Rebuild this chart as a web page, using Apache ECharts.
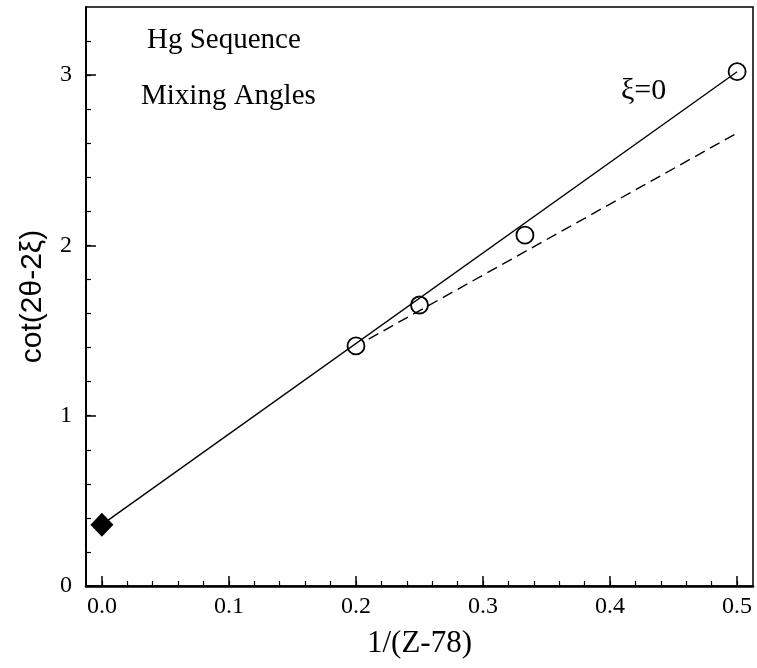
<!DOCTYPE html>
<html>
<head>
<meta charset="utf-8">
<script src="https://cdn.jsdelivr.net/npm/echarts@6/dist/echarts.min.js"></script>
<style>
  html, body { margin: 0; padding: 0; background: #fff; }
  #chart { width: 757px; height: 668px; }
</style>
</head>
<body>
<div id="chart"></div>
<script>
// measured points, 1/(Z-78) vs cot(2θ-2ξ)
const circlePoints = [[0.2, 1.41], [0.25, 1.65], [0.333, 2.06], [0.5, 3.02]];
const limitPoint = [[0, 0.36]];
const solidFit = [[0, 0.36], [0.5, 3.02]];
const dashedFit = [[0.21, 1.45], [0.5, 2.66]];

const xMajor = [0, 0.1, 0.2, 0.3, 0.4, 0.5];
const xLabels = ["0.0", "0.1", "0.2", "0.3", "0.4", "0.5"];
const xMinor = [0, 0.02, 0.04, 0.06, 0.08, 0.1, 0.12, 0.14, 0.16, 0.18, 0.2, 0.22, 0.24, 0.26, 0.28, 0.3,
  0.32, 0.34, 0.36, 0.38, 0.4, 0.42, 0.44, 0.46, 0.48, 0.5];
const yMajor = [0, 1, 2, 3];
const yMinor = [0, 0.2, 0.4, 0.6, 0.8, 1, 1.2, 1.4, 1.6, 1.8, 2, 2.2, 2.4, 2.6, 2.8, 3, 3.2];

const serif = "Liberation Serif";
const X_MIN = -0.0125, X_MAX = 0.5125, Y_MIN = 0, Y_MAX = 3.4;

const chart = echarts.init(document.getElementById("chart"));

const baseX = {
  type: "value",
  min: X_MIN,
  max: X_MAX,
  position: "bottom",
  splitLine: { show: false },
};
const baseY = {
  type: "value",
  min: Y_MIN,
  max: Y_MAX,
  position: "left",
  splitLine: { show: false },
};

const option = {
  animation: false,
  backgroundColor: "#fff",
  grid: {
    left: 86, right: 4, top: 7, bottom: 82,
    show: true, borderColor: "#000", borderWidth: 1.5,
  },
  xAxis: [
    {
      ...baseX,
      name: "1/(Z-78)",
      nameLocation: "middle",
      nameGap: 42,
      nameTextStyle: { fontFamily: serif, fontSize: 31, color: "#000" },
      axisLine: { show: true, onZero: false, lineStyle: { color: "#000", width: 2.5 } },
      axisTick: { inside: true, length: 10, customValues: xMajor, lineStyle: { color: "#000", width: 1.5 } },
      axisLabel: {
        customValues: xMajor,
        formatter: (v) => xLabels[xMajor.indexOf(Math.round(v * 10) / 10)],
        fontFamily: serif, fontSize: 24, color: "#000", margin: 9,
      },
    },
    {
      ...baseX,
      axisLine: { show: false, onZero: false },
      axisTick: { inside: true, length: 5, customValues: xMinor, lineStyle: { color: "#000", width: 1.2 } },
      axisLabel: { show: false },
    },
  ],
  yAxis: [
    {
      ...baseY,
      name: "cot(2θ-2ξ)",
      nameLocation: "middle",
      nameGap: 38,
      nameTextStyle: { fontFamily: "Liberation Sans", fontSize: 30, color: "#000" },
      axisLine: { show: true, onZero: false, lineStyle: { color: "#000", width: 2 } },
      axisTick: { inside: true, length: 10, customValues: yMajor, lineStyle: { color: "#000", width: 1.5 } },
      axisLabel: {
        customValues: yMajor,
        fontFamily: serif, fontSize: 24, color: "#000", margin: 14,
      },
    },
    {
      ...baseY,
      axisLine: { show: false, onZero: false },
      axisTick: { inside: true, length: 5, customValues: yMinor, lineStyle: { color: "#000", width: 1.2 } },
      axisLabel: { show: false },
    },
  ],
  graphic: [
    { type: "text", left: 147, top: 26, style: { text: "Hg Sequence", font: "29px 'Liberation Serif'", fill: "#000" } },
    { type: "text", left: 141, top: 82, style: { text: "Mixing Angles", font: "29px 'Liberation Serif'", fill: "#000" } },
    { type: "text", left: 621, top: 76, style: { text: "ξ=0", font: "30px 'Liberation Serif'", fill: "#000" } },
  ],
  series: [
    {
      type: "line",
      data: solidFit,
      symbol: "none",
      lineStyle: { color: "#000", width: 1.4 },
      silent: true,
    },
    {
      type: "line",
      data: dashedFit,
      symbol: "none",
      lineStyle: { color: "#000", width: 1.4, type: [11, 6] },
      silent: true,
    },
    {
      type: "scatter",
      data: circlePoints,
      symbol: "circle",
      symbolSize: 17,
      itemStyle: { color: "rgba(255,255,255,0)", borderColor: "#000", borderWidth: 1.8, opacity: 1 },
    },
    {
      type: "scatter",
      data: limitPoint,
      symbol: "diamond",
      symbolSize: [23, 24],
      itemStyle: { color: "#000", opacity: 1 },
    },
  ],
};
chart.setOption(option);
</script>
</body>
</html>
